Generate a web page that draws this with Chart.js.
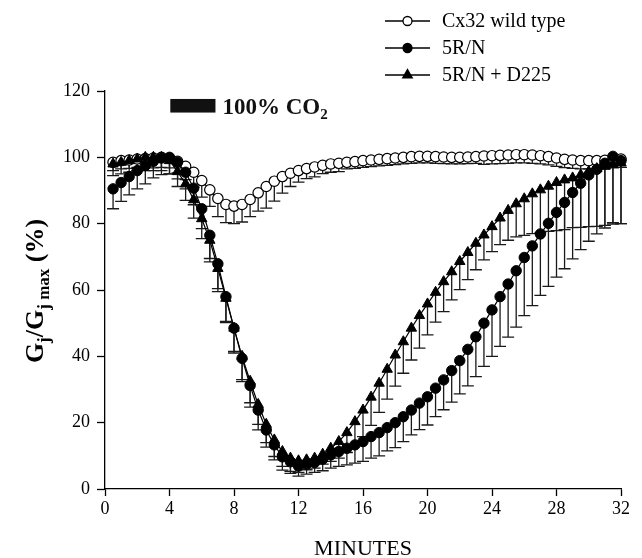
<!DOCTYPE html>
<html>
<head>
<meta charset="utf-8">
<script src="https://cdn.jsdelivr.net/npm/chart.js@4.4.1/dist/chart.umd.min.js"></script>
<style>
  html, body { margin: 0; padding: 0; background: #fff; }
  #wrap { width: 642px; height: 558px; }
</style>
</head>
<body>
<div id="wrap"><canvas id="gjChart" width="642" height="558"></canvas></div>
<script>
// sampling times (min)
const minutes = [
  0.5, 1, 1.5, 2, 2.5, 3, 3.5, 4,
  4.5, 5, 5.5, 6, 6.5, 7, 7.5, 8,
  8.5, 9, 9.5, 10, 10.5, 11, 11.5, 12,
  12.5, 13, 13.5, 14, 14.5, 15, 15.5, 16,
  16.5, 17, 17.5, 18, 18.5, 19, 19.5, 20,
  20.5, 21, 21.5, 22, 22.5, 23, 23.5, 24,
  24.5, 25, 25.5, 26, 26.5, 27, 27.5, 28,
  28.5, 29, 29.5, 30, 30.5, 31, 31.5, 32
];

const wildType = [
  98.5, 99, 99.2, 99.5, 99.6, 99.8, 100, 99.8,
  98.8, 97.3, 95.5, 93, 90.2, 87.6, 85.8, 85.3,
  85.8, 87.3, 89.3, 91.2, 92.8, 94.2, 95.2, 96,
  96.6, 97.1, 97.6, 98, 98.2, 98.5, 98.7, 99,
  99.2, 99.4, 99.6, 99.8, 100, 100.2, 100.3, 100.3,
  100.2, 100.1, 100, 100, 100.1, 100.2, 100.4, 100.5,
  100.6, 100.7, 100.8, 100.8, 100.7, 100.5, 100.2, 99.8,
  99.4, 99.2, 99, 99, 99, 99.1, 99.3, 99.5
];
const wildTypeErr = [
  2.5, 2.5, 2.5, 2.5, 2.5, 3, 3, 3,
  3.5, 4, 4.5, 5, 5, 5.5, 5.5, 5.3,
  5.3, 5.2, 5.5, 6.5, 6, 5, 4, 3.5,
  3, 3, 2.5, 2.5, 2.5, 2, 2, 2,
  2, 2, 2, 2, 2, 2, 2, 2,
  2, 2, 2, 2, 2, 2, 2.5, 2.5,
  2.5, 2.5, 2.5, 2.5, 2.5, 2.5, 2.5, 2.5,
  2.5, 2.5, 2.5, 2.5, 2.5, 2.5, 2.5, 2.5
];

const mutant = [
  90.5, 92.4, 94.2, 96, 97.5, 98.8, 99.8, 100,
  98.5, 95.5, 90.7, 84.5, 76.5, 67.9, 58, 48.5,
  39.4, 31.2, 23.8, 17.8, 13.3, 9.7, 8.2, 6.9,
  7.5, 8, 9, 10.3, 11.3, 12.3, 13.3, 14.3,
  15.8, 17, 18.5, 20, 21.8, 23.8, 25.9, 27.8,
  30.4, 32.9, 35.7, 38.7, 42.1, 45.9, 50, 54,
  58, 61.8, 65.8, 69.8, 73.3, 76.9, 80.1, 83.4,
  86.4, 89.4, 92.2, 94.7, 96.4, 98.2, 100.3, 99
];
const mutantErr = [
  6, 5.7, 5.5, 5.5, 5.5, 5, 5, 5,
  5, 5, 5, 6, 7, 7.5, 7.8, 7.5,
  7, 6.5, 6, 5.2, 4.5, 4, 3.5, 3,
  3, 3, 3.5, 4, 4.5, 5, 5.5, 6,
  6.5, 7, 7, 7.5, 7.5, 7.5, 8, 8.5,
  8.6, 9, 9.5, 10, 11, 12, 13, 14,
  15, 16, 17, 17.5, 18, 18.5, 19, 19.5,
  20, 20, 20, 20, 19.5, 19.5, 20, 19
];

const mutantD225 = [
  98, 98.5, 99, 99.5, 100, 100, 100, 99,
  95.7, 92, 87.2, 81.5, 75, 66.5, 57.5, 48.5,
  40, 32.5, 25.5, 19.5, 14.8, 11.3, 9.3, 8.5,
  8.8, 9.3, 10.5, 12.3, 14.3, 17, 20.3, 23.8,
  27.7, 31.9, 36.1, 40.4, 44.4, 48.5, 52.3, 55.8,
  59.3, 62.5, 65.5, 68.6, 71.3, 74.1, 76.6, 79.1,
  81.7, 84, 86, 87.5, 89, 90.2, 91.3, 92.4,
  93.2, 93.8, 94.7, 95.7, 96.6, 97.3, 97.9, 98.3
];
const mutantD225Err = [
  3.5, 3.5, 3.5, 3.5, 4, 4, 4, 4,
  4.5, 5, 5.5, 6, 6.5, 7, 7, 7,
  7, 6.5, 6, 5.5, 5, 4.5, 4, 3.5,
  3, 3, 3, 4, 5, 6, 7, 8,
  8.5, 8.8, 9, 9.4, 9.5, 9.6, 9.8, 9.3,
  9, 9, 8.5, 8.5, 8.2, 8, 7.5, 7.5,
  8, 9, 10, 11, 12, 13, 13.6, 14.5,
  15, 15, 15.8, 16.6, 17.4, 17.8, 18, 18.3
];

const seriesLabels = ['Cx32 wild type', '5R/N', '5R/N + D225'];
const xTicks = [0, 4, 8, 12, 16, 20, 24, 28, 32];
const yTicks = [0, 20, 40, 60, 80, 100, 120];

const serif = "'Liberation Serif', 'Times New Roman', serif";

function points(values) {
  return values.map((v, i) => ({ x: minutes[i], y: v }));
}

// one-sided (downward) SEM bars under the markers
const errorBars = {
  id: 'errorBars',
  beforeDatasetsDraw(chart) {
    const { ctx, scales: { x, y } } = chart;
    ctx.save();
    ctx.strokeStyle = '#1a1a1a';
    ctx.lineWidth = 1.3;
    chart.data.datasets.forEach(ds => {
      ds.data.forEach((p, i) => {
        const px = x.getPixelForValue(p.x);
        const top = y.getPixelForValue(p.y);
        const bot = y.getPixelForValue(p.y - ds.errors[i]);
        ctx.beginPath();
        ctx.moveTo(px, top);
        ctx.lineTo(px, bot);
        ctx.moveTo(px - 6, bot);
        ctx.lineTo(px + 6, bot);
        ctx.stroke();
      });
    });
    ctx.restore();
  }
};

function textWidth(ctx, parts, bigFont, smallFont) {
  let w = 0;
  parts.forEach(p => { ctx.font = p.sub ? smallFont : bigFont; w += ctx.measureText(p.t).width; });
  return w;
}

// legend, CO2 marker and y-axis title
const extras = {
  id: 'extras',
  afterDraw(chart) {
    const { ctx, scales: { x, y } } = chart;
    ctx.save();

    // legend
    ctx.textBaseline = 'middle';
    ctx.textAlign = 'left';
    ctx.font = '20px ' + serif;
    chart.data.datasets.forEach((ds, i) => {
      const ly = 21 + i * 27;
      ctx.strokeStyle = '#000';
      ctx.lineWidth = 1.3;
      ctx.beginPath();
      ctx.moveTo(385, ly);
      ctx.lineTo(430, ly);
      ctx.stroke();
      ctx.fillStyle = ds.pointBackgroundColor;
      Chart.helpers.drawPoint(ctx, {
        pointStyle: ds.pointStyle,
        radius: ds.pointStyle === 'triangle' ? 5.5 : 4.5,
        borderWidth: 1.2,
        rotation: 0
      }, 407.5, ly);
      ctx.fillStyle = '#000';
      ctx.fillText(ds.label, 442, ly + 1);
    });

    // 100% CO2 bar
    const bx0 = x.getPixelForValue(4.05);
    const bx1 = x.getPixelForValue(6.85);
    const by0 = y.getPixelForValue(117.6);
    const by1 = y.getPixelForValue(113.5);
    ctx.fillStyle = '#111';
    ctx.fillRect(bx0, by0, bx1 - bx0, by1 - by0);
    ctx.textBaseline = 'alphabetic';
    ctx.font = 'bold 23px ' + serif;
    const co2Text = '100% CO';
    ctx.fillText(co2Text, bx1 + 7, by1 + 1);
    const cw = ctx.measureText(co2Text).width;
    ctx.font = 'bold 15px ' + serif;
    ctx.fillText('2', bx1 + 7 + cw, by1 + 6);

    // y-axis title with subscripts
    const parts = [
      { t: 'G', sub: false }, { t: 'j', sub: true },
      { t: '/G', sub: false }, { t: 'j max', sub: true },
      { t: ' (%)', sub: false }
    ];
    const big = 'bold 26px ' + serif;
    const small = 'bold 17px ' + serif;
    const total = textWidth(ctx, parts, big, small);
    ctx.translate(43, 291);
    ctx.rotate(-Math.PI / 2);
    let u = -total / 2;
    ctx.fillStyle = '#000';
    parts.forEach(p => {
      ctx.font = p.sub ? small : big;
      ctx.fillText(p.t, u, p.sub ? 6 : 0);
      u += ctx.measureText(p.t).width;
    });

    ctx.restore();
  }
};

const ctx = document.getElementById('gjChart').getContext('2d');
const gjChart = new Chart(ctx, {
  type: 'line',
  data: {
    datasets: [
      {
        label: seriesLabels[0],
        data: points(wildType),
        errors: wildTypeErr,
        borderColor: '#000',
        borderWidth: 1.2,
        pointStyle: 'circle',
        pointRadius: 5.2,
        pointBackgroundColor: '#fff',
        pointBorderColor: '#000',
        pointBorderWidth: 1.2,
        order: 3
      },
      {
        label: seriesLabels[1],
        data: points(mutant),
        errors: mutantErr,
        borderColor: '#000',
        borderWidth: 1.2,
        pointStyle: 'circle',
        pointRadius: 5.2,
        pointBackgroundColor: '#000',
        pointBorderColor: '#000',
        pointBorderWidth: 1,
        order: 1
      },
      {
        label: seriesLabels[2],
        data: points(mutantD225),
        errors: mutantD225Err,
        borderColor: '#000',
        borderWidth: 1.2,
        pointStyle: 'triangle',
        pointRadius: 6,
        pointBackgroundColor: '#000',
        pointBorderColor: '#000',
        pointBorderWidth: 1,
        order: 2
      }
    ]
  },
  options: {
    responsive: false,
    animation: false,
    clip: false,
    layout: { padding: { left: 0, right: 21, top: 91, bottom: 0 } },
    plugins: {
      legend: { display: false },
      tooltip: { enabled: false }
    },
    scales: {
      x: {
        type: 'linear',
        min: 0,
        max: 32,
        afterFit: s => { s.height = 69; },
        afterBuildTicks: s => { s.ticks = xTicks.map(v => ({ value: v })); },
        ticks: { color: '#000', padding: 2, font: { family: serif, size: 18 } },
        grid: { drawOnChartArea: false, drawTicks: true, tickLength: 7, tickColor: '#000', tickWidth: 1.3 },
        border: { color: '#000', width: 1.3 },
        title: {
          display: true,
          text: 'MINUTES',
          color: '#000',
          font: { family: serif, size: 22 },
          padding: { top: 0, bottom: -4 }
        }
      },
      y: {
        min: 0,
        max: 120,
        afterFit: s => { s.width = 105; },
        afterBuildTicks: s => { s.ticks = yTicks.map(v => ({ value: v })); },
        ticks: { color: '#000', padding: 7, font: { family: serif, size: 18 } },
        grid: { drawOnChartArea: false, drawTicks: true, tickLength: 8, tickColor: '#000', tickWidth: 1.3 },
        border: { color: '#000', width: 1.3 }
      }
    }
  },
  plugins: [errorBars, extras]
});
</script>
</body>
</html>
